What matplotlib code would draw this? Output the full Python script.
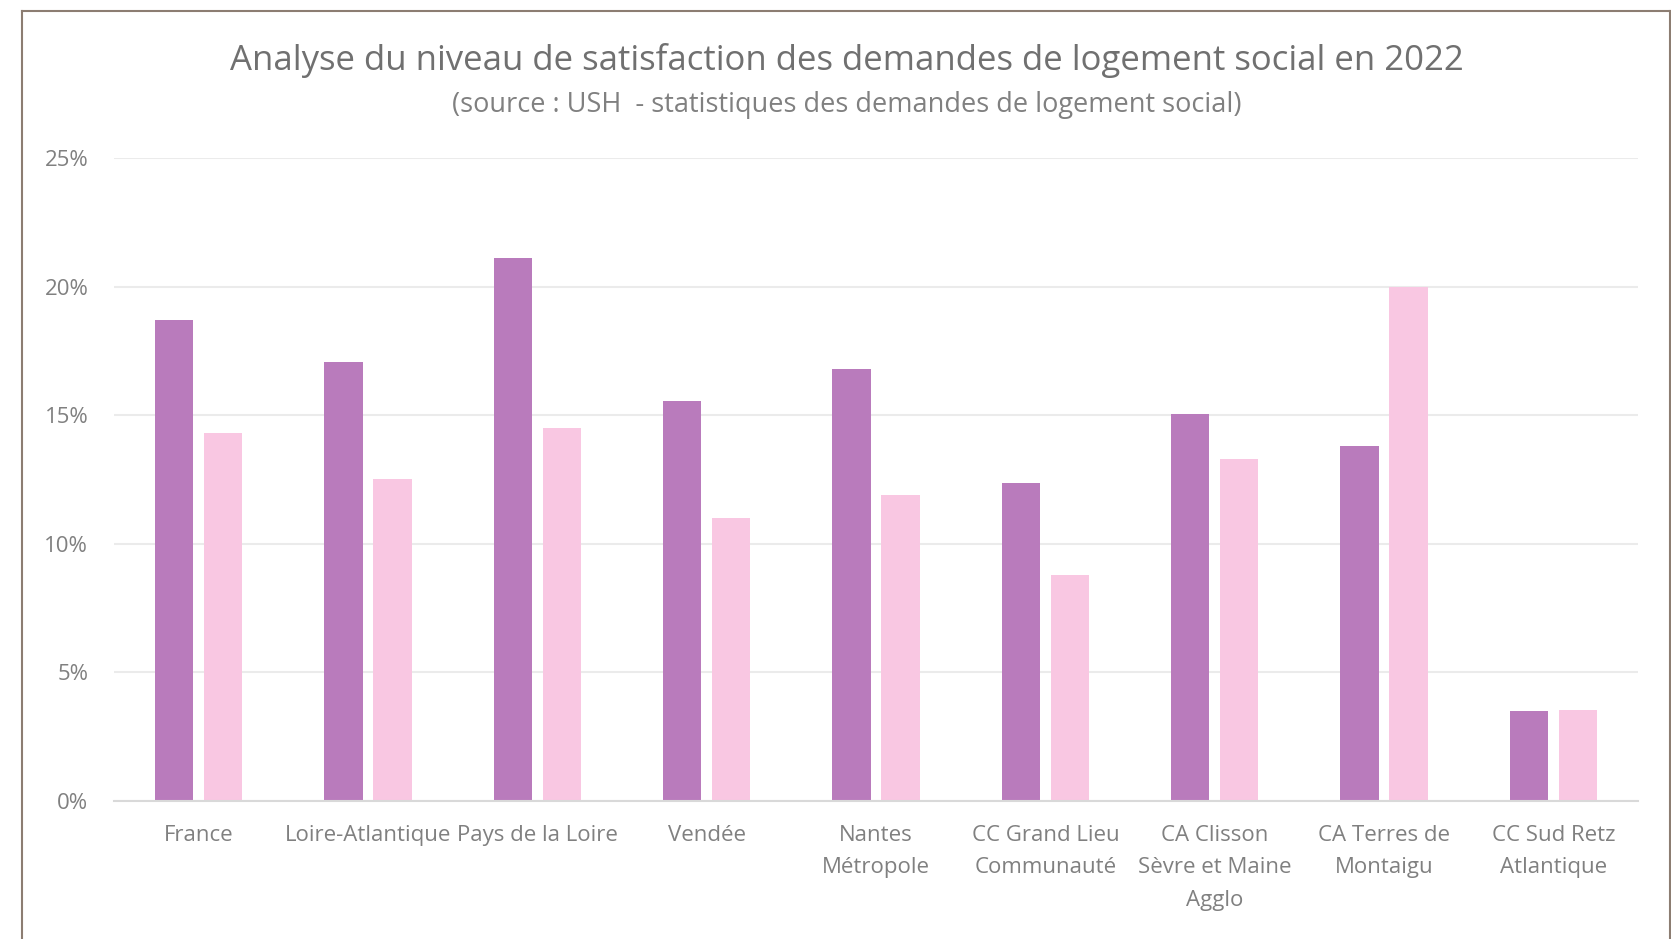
import matplotlib
matplotlib.use("Agg")
import matplotlib.pyplot as plt
from matplotlib.lines import Line2D
from matplotlib.ticker import FuncFormatter
import numpy as np

plt.rcParams['font.family'] = ['Open Sans', 'DejaVu Sans']

categories = [
    "France", "Loire-Atlantique", "Pays de la Loire", "Vendée",
    "Nantes\nMétropole", "CC Grand Lieu\nCommunauté",
    "CA Clisson\nSèvre et Maine\nAgglo", "CA Terres de\nMontaigu",
    "CC Sud Retz\nAtlantique",
]
series_a = [0.187, 0.1705, 0.211, 0.1555, 0.168, 0.1235, 0.1505, 0.138, 0.035]
series_b = [0.143, 0.125, 0.145, 0.110, 0.119, 0.088, 0.133, 0.200, 0.0355]
y_ticks = [0, 0.05, 0.10, 0.15, 0.20, 0.25]

color_a = "#B97BBC"
color_b = "#F9C7E2"
text_grey = "#808080"

W, H = 1671, 939
fig = plt.figure(figsize=(W / 100, H / 100), dpi=100)
fig.patch.set_facecolor("white")

ax = fig.add_axes([114 / W, 138 / H, (1638 - 114) / W, (801 - 158) / H])
x = np.arange(len(categories))
bw = 0.226
off = 0.145
ax.bar(x - off, series_a, width=bw, color=color_a, zorder=3)
ax.bar(x + off, series_b, width=bw, color=color_b, zorder=3)

ax.set_xlim(-0.5, len(categories) - 0.5)
ax.set_ylim(0, 0.25)
ax.set_yticks(y_ticks)
ax.yaxis.set_major_formatter(FuncFormatter(lambda v, p: f"{v * 100:.0f}%"))
ax.grid(axis="y", color="#EBEBEB", linewidth=1.5, zorder=0)
ax.set_axisbelow(True)
for s in ["top", "right", "left"]:
    ax.spines[s].set_visible(False)
ax.spines["bottom"].set_color("#D9D9D9")
ax.spines["bottom"].set_linewidth(1.5)
ax.spines["bottom"].set_zorder(4)

ax.set_xticks(x)
ax.set_xticklabels(categories, linespacing=1.73)
ax.tick_params(axis="x", length=0, pad=17, labelsize=16, labelcolor=text_grey)
ax.tick_params(axis="y", length=0, pad=18.5, labelsize=16, labelcolor=text_grey)

fig.text(847 / W, 1 - 60 / H, "Analyse du niveau de satisfaction des demandes de logement social en 2022",
         ha="center", va="center", fontsize=25, color="#707070")
fig.text(847 / W, 1 - 105 / H, "(source : USH  - statistiques des demandes de logement social)",
         ha="center", va="center", fontsize=19.5, color="#808080")

# outer frame
frame_color = "#8C7D72"
fig.add_artist(Line2D([22 / W, 1670 / W], [1 - 11 / H, 1 - 11 / H], color=frame_color, lw=1.5))
fig.add_artist(Line2D([22 / W, 22 / W], [0, 1 - 11 / H], color=frame_color, lw=1.5))
fig.add_artist(Line2D([1670 / W, 1670 / W], [0, 1 - 11 / H], color=frame_color, lw=1.5))

fig.savefig("out.png", dpi=100, facecolor="white")
